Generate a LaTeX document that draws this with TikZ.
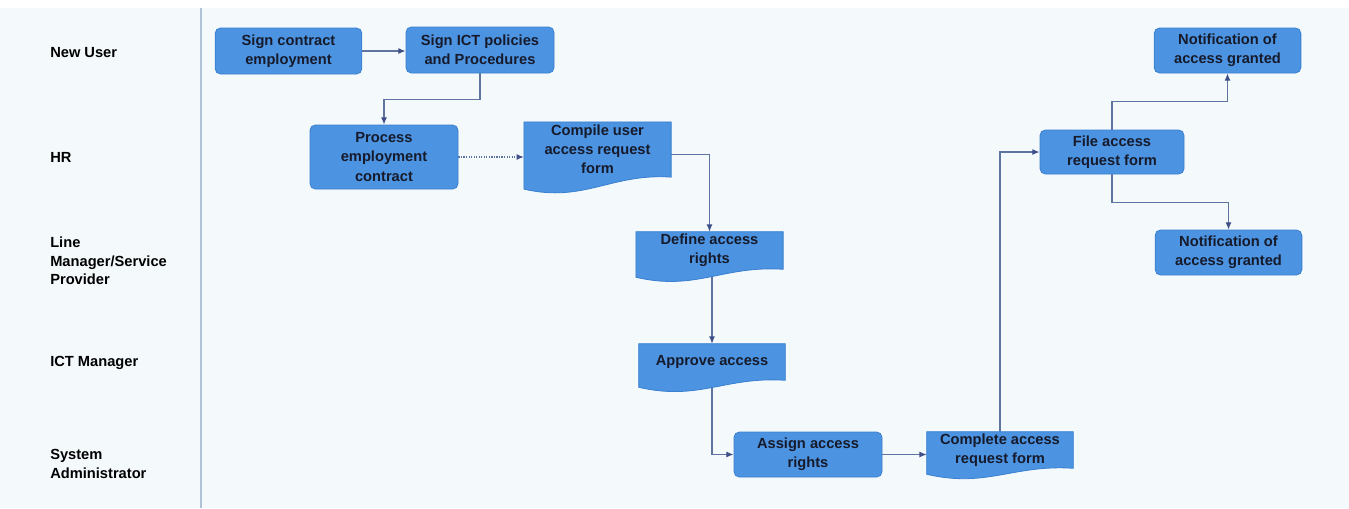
\documentclass[tikz,border=0pt]{standalone}
\usepackage{fontspec}
\setmainfont{Liberation Sans}
\usetikzlibrary{arrows.meta,calc}
\pgfdeclarelayer{bg}
\pgfdeclarelayer{edges}
\pgfdeclarelayer{shapes}
\pgfsetlayers{bg,edges,shapes,main}
\definecolor{pagebg}{HTML}{F4F9FC}
\definecolor{boxfill}{HTML}{4C94E2}
\definecolor{boxline}{HTML}{3A7FD0}
\definecolor{boxtext}{HTML}{161A2A}
\definecolor{edgecol}{HTML}{6074A2}
\definecolor{tipcol}{HTML}{3E4E86}
\definecolor{sepcol}{HTML}{AFC2D6}
\tikzset{
  lanelabel/.style={anchor=west, align=left, font=\fontsize{11}{14}\selectfont\bfseries, text=black, inner sep=0pt},
  roundbox/.style={rectangle, rounded corners=4pt, fill=boxfill, draw=boxline, line width=0.6pt,
     align=center, font=\fontsize{11}{14.3}\selectfont\bfseries, text=boxtext, minimum width=110pt, inner sep=0pt},
  docbox/.style={rectangle, align=center, font=\fontsize{11}{14.3}\selectfont\bfseries, text=boxtext,
     minimum width=110pt, inner sep=0pt},
  docfill/.style={fill=boxfill, draw=boxline, line width=0.6pt},
  conn/.style={draw=edgecol, line width=0.9pt, -{Latex[length=5.5pt,width=4.5pt,color=tipcol]}},
}
\newcommand\docpath[2]{%
  \path[docfill] (#1.north west) -- (#1.north east) -- (#1.south east)
    .. controls ($(#1.south east)+(-60,-4)$) and ($(#1.south west)+(60,#2+14)$) ..
    ($(#1.south west)+(0,#2)$) -- cycle;}
\begin{document}
\begin{tikzpicture}[x=0.75pt,y=-0.75pt]
\useasboundingbox (0,0) rectangle (1349,508);
\begin{pgfonlayer}{bg}
\fill[pagebg] (0,0) rectangle (1349,508);
\fill[white] (0,0) rectangle (1349,8);
\end{pgfonlayer}
\coordinate (septop) at (201,8);
\coordinate (sepbot) at (201,508);
\draw[sepcol, line width=1.1pt] (septop) -- (sepbot);

% lane labels
\node[lanelabel] (l1) at (50,53) {New User};
\node[lanelabel] (l2) at (50,157) {HR};
\node[lanelabel] (l3) at (50,261) {Line\\Manager/Service\\Provider};
\node[lanelabel] (l4) at (50,363) {ICT Manager};
\node[lanelabel] (l5) at (50,464) {System\\Administrator};

% boxes
\node[roundbox, minimum height=34.5pt] (sc) at (288.5,51) {Sign contract\\employment};
\node[roundbox, minimum height=34.5pt, minimum width=111pt] (sp) at (480,50) {Sign ICT policies\\and Procedures};
\node[roundbox, minimum height=48pt, minimum width=111pt] (pe) at (384,157) {Process\\employment\\contract};
\node[docbox, minimum height=41pt] (cu) at (597.5,149.5) {Compile user\\access request\\form};
\node[docbox, minimum height=27.75pt] (da) at (709.5,250.5) {Define access\\rights};
\node[docbox, minimum height=27pt, minimum width=109.5pt] (ap) at (712,362) {Approve access};
\node[roundbox, minimum height=33.75pt, minimum width=111pt] (as) at (808,454.5) {Assign access\\rights};
\node[docbox, minimum height=27pt, minimum width=109.5pt] (ca) at (1000,450) {Complete access\\request form};
\node[roundbox, minimum height=33pt, minimum width=108pt] (fa) at (1112,152) {File access\\request form};
\node[roundbox, minimum height=33.75pt] (n1) at (1227.5,50.5) {Notification of\\access granted};
\node[roundbox, minimum height=33.75pt] (n2) at (1228.5,252.5) {Notification of\\access granted};

\begin{pgfonlayer}{shapes}
\docpath{cu}{12}
\docpath{da}{8}
\docpath{ap}{7}
\docpath{ca}{6}
\end{pgfonlayer}

\begin{pgfonlayer}{edges}
\draw[conn] (sc.east) -- (sc.east -| sp.west);
\draw[conn] (sp.south) -- ++(0,26) -| (pe.north);
\draw[conn, densely dotted] (pe.east) -- (pe.east -| cu.west);
\draw[conn] ($(cu.east)+(0,5)$) -| (da.north);
\draw[conn] (ap.north |- da.south) -- (ap.north);
\draw[conn] (ap.south) |- (as.west);
\draw[conn] (as.east) -- (as.east -| ca.west);
\draw[conn] (ca.north) |- (fa.west);
\draw[conn] (fa.north) -- ++(0,-28) -| (n1.south);
\draw[conn] (fa.south) -- ++(0,28) -| (n2.north);
\end{pgfonlayer}
\end{tikzpicture}
\end{document}
